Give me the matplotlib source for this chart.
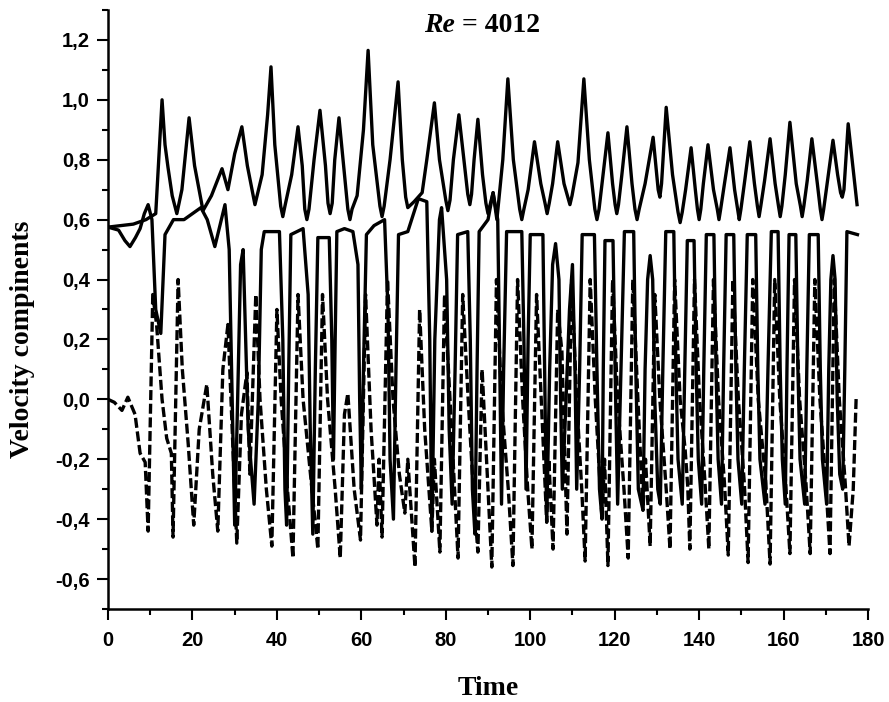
import matplotlib.pyplot as plt
from matplotlib.ticker import MultipleLocator, FuncFormatter

# --- upper solid curve (oscillation above 0.6, incl. the large spikes) ---
t_up = [0, 3, 6, 9, 11.3, 12.0, 12.8, 13.5, 14.2, 15.2, 16.3, 17.5, 19.2, 20.5, 22.5, 24.5,
        27, 28.4, 30, 31.7, 33.0, 34.8, 36.5, 37.8, 38.6, 39.5, 40.9, 41.4, 41.9, 43.5, 45, 46,
        46.6, 47.1, 47.6, 48.8, 50.2, 51.5, 52.1, 52.6, 53.1, 53.7, 54.7, 56, 56.8, 57.3, 57.8,
        59, 60.5, 61.6, 62.7, 64.4, 64.9, 65.4, 66.8, 68.7, 69.7, 70.5, 71, 72.5, 74.4, 75.5,
        77.3, 78.5, 80.0, 80.5, 81.0, 81.8, 83.1, 84.3, 85.2, 85.7, 86.1, 86.7, 87.6, 88.7,
        89.5, 90, 90.5, 91.2, 92.1, 93.5, 94.7, 96, 97.5, 98, 98.5, 99.5, 101, 102.5, 103.5,
        104, 104.5, 105.3, 106.5, 108, 108.9, 109.4, 109.9, 111.3, 112.7, 114, 115.3, 115.8,
        116.3, 117, 118.4, 119.5, 120.1, 120.5, 120.9, 121.7, 122.9, 124.1, 124.8, 125.3,
        125.8, 127.2, 129.1, 130.3, 130.7, 131.1, 132.2, 133.7, 135.0, 135.5, 136.0, 136.8,
        138.1, 139.1, 139.6, 140, 140.4, 141, 142.1, 143.4, 144.3, 144.7, 145.1, 146, 147.3,
        148.4, 149.1, 149.5, 149.9, 150.8, 152, 153.1, 153.8, 154.2, 154.6, 155.5, 156.8,
        158, 158.8, 159.2, 159.6, 160.4, 161.5, 163, 164.0, 164.4, 164.8, 165.6, 166.7, 168,
        168.7, 169.1, 169.5, 170.4, 171.7, 172.8, 173.5, 173.9, 174.3, 175.3, 176.4, 177.4]
v_up = [0.575, 0.58, 0.585, 0.60, 0.62, 0.80, 1.00, 0.85, 0.775, 0.68, 0.62, 0.70, 0.94, 0.78, 0.63, 0.68,
        0.77, 0.70, 0.82, 0.91, 0.78, 0.65, 0.75, 0.95, 1.11, 0.85, 0.645, 0.61, 0.645, 0.75, 0.91, 0.78,
        0.635, 0.60, 0.635, 0.80, 0.965, 0.78, 0.655, 0.62, 0.655, 0.80, 0.94, 0.75, 0.635, 0.60, 0.635,
        0.68, 0.90, 1.165, 0.85, 0.645, 0.61, 0.645, 0.80, 1.06, 0.80, 0.675, 0.64, 0.66, 0.69, 0.80,
        0.99, 0.80, 0.665, 0.63, 0.665, 0.80, 0.95, 0.80, 0.685, 0.65, 0.685, 0.80, 0.935, 0.75,
        0.655, 0.62, 0.65, 0.69, 0.60, 0.80, 1.07, 0.80, 0.635, 0.60, 0.635, 0.70, 0.86, 0.72, 0.655,
        0.62, 0.655, 0.72, 0.86, 0.72, 0.675, 0.65, 0.68, 0.79, 1.07, 0.80, 0.635, 0.60,
        0.635, 0.72, 0.89, 0.72, 0.65, 0.62, 0.65, 0.75, 0.91, 0.72, 0.635, 0.60,
        0.635, 0.72, 0.875, 0.70, 0.675, 0.72, 0.975, 0.75, 0.625, 0.59, 0.625, 0.70,
        0.84, 0.70, 0.635, 0.60, 0.635, 0.72, 0.85, 0.70, 0.635, 0.60, 0.635, 0.72, 0.84,
        0.70, 0.635, 0.60, 0.635, 0.73, 0.86, 0.72, 0.645, 0.61, 0.645, 0.73, 0.87,
        0.72, 0.645, 0.61, 0.645, 0.75, 0.925, 0.72, 0.645, 0.61, 0.645, 0.73, 0.87, 0.72,
        0.635, 0.60, 0.635, 0.73, 0.865, 0.75, 0.69, 0.675, 0.70, 0.92, 0.78, 0.65]

# --- middle solid curve (plateaus near 0.55 with sharp dips) ---
t_mid = [0, 2.5, 4.0, 5.2, 6.5, 7.6, 8.6, 9.5, 10.4, 11.3, 12.5, 13.5, 15.5, 18.0, 20.0, 22.0,
         23.5, 25.3, 26.5, 27.7, 28.7, 29.4, 30.0, 30.7, 31.4, 32.0, 32.6, 33.2, 34.6, 35.6,
         36.3, 37.0, 40.6, 41.4, 41.9, 42.3, 42.8, 43.3, 46.2, 47.4, 47.9, 48.5, 49.1, 49.7,
         52.4, 53.0, 53.4, 53.8, 54.2, 56.0, 58.0, 59.2, 59.6, 60.0, 60.5, 61.2, 63.0, 65.5,
         66.3, 66.8, 67.6, 68.2, 68.8, 71.0, 73.5, 75.5, 76.2, 76.7, 77.4, 78.5, 79.0, 80.2,
         80.8, 81.5, 82.2, 82.8, 85.2, 85.8, 86.3, 86.9, 87.4, 87.9, 90.0, 91.2, 92.3, 92.7,
         93.2, 93.7, 94.4, 98.0, 98.5, 99.0, 99.5, 100.0, 103.0, 103.5, 103.9, 104.6, 105.3,
         106.0, 106.8, 107.2, 107.6, 108.2, 109.3, 110.0, 110.6, 111.0, 111.7, 112.3, 115.2,
         115.8, 116.4, 117.0, 117.3, 117.7, 119.6, 120.1, 120.7, 121.5, 122.3, 124.5, 125.0,
         125.6, 126.7, 127.2, 127.8, 128.4, 129.0, 129.5, 130.2, 130.8, 131.4, 132.1, 134.0,
         134.5, 135.0, 136.0, 136.6, 137.2, 138.8, 139.3, 139.8, 140.6, 141.1, 141.7, 143.5,
         144.0, 144.5, 145.3, 145.8, 146.4, 148.2, 148.7, 149.2, 150.1, 150.7, 151.4, 153.4,
         153.9, 154.4, 155.6, 156.3, 157.1, 158.7, 159.2, 159.7, 160.4, 160.8, 161.3, 162.9,
         163.4, 163.9, 165.0, 165.5, 166.1, 168.2, 168.7, 169.2, 170.2, 170.7, 171.2, 171.7,
         172.2, 172.7, 173.3, 174.0, 174.5, 175.0, 177.5]
v_mid = [0.575, 0.565, 0.53, 0.51, 0.54, 0.57, 0.62, 0.65, 0.60, 0.30, 0.22, 0.55, 0.60, 0.60, 0.62, 0.64,
         0.60, 0.51, 0.58, 0.65, 0.50, 0.0, -0.42, 0.0, 0.45, 0.50, 0.20, -0.10, -0.35, 0.0,
         0.50, 0.56, 0.56, 0.20, -0.30, -0.42, 0.10, 0.55, 0.57, 0.35, -0.10, -0.45, 0.10, 0.54,
         0.54, 0.20, -0.20, 0.20, 0.56, 0.57, 0.56, 0.45, 0.0, -0.30, 0.10, 0.55, 0.58, 0.60,
         0.30, -0.20, -0.40, 0.10, 0.55, 0.56, 0.67, 0.66, 0.20, -0.44, 0.20, 0.60, 0.64, 0.40,
         -0.10, -0.35, 0.10, 0.55, 0.56, 0.20, -0.30, -0.45, 0.10, 0.56, 0.60, 0.69, 0.60, 0.20,
         -0.35, 0.10, 0.56, 0.56, 0.20, -0.30, 0.20, 0.55, 0.55, 0.0, -0.41, 0.10, 0.45,
         0.52, 0.40, 0.0, -0.30, -0.10, 0.30, 0.45, 0.10, -0.30, 0.10, 0.55, 0.55,
         0.10, -0.30, -0.40, 0.10, 0.53, 0.53, 0.10, -0.35, 0.10, 0.56, 0.56, 0.10,
         -0.30, -0.37, 0.10, 0.40, 0.48, 0.40, 0.0, -0.30, -0.35, 0.10, 0.56, 0.56,
         0.10, -0.20, -0.35, 0.10, 0.53, 0.53, 0.10, -0.20, -0.35, 0.10, 0.55, 0.55,
         0.10, -0.20, -0.35, 0.10, 0.55, 0.55, 0.10, -0.20, -0.35, 0.10, 0.55, 0.55,
         0.10, -0.20, -0.35, 0.10, 0.56, 0.56, 0.10, -0.20, -0.35, 0.10, 0.55, 0.55,
         0.10, -0.20, -0.35, 0.10, 0.55, 0.55, 0.10, -0.20, -0.35, 0.10, 0.40, 0.48,
         0.40, 0.0, -0.25, -0.30, 0.10, 0.56, 0.55]

# --- dashed curve (starts at 0, deep troughs near -0.5) ---
t_dash = [0, 1.5, 3.3, 4.7, 6.4, 7.6, 8.8, 9.5, 10.6, 11.5, 12.8, 13.9, 15.0, 15.4,
          16.6, 17.6, 19.0, 20.3, 21.6, 23.4, 24.8, 26.0, 27.2, 28.4, 29.4, 30.5,
          31.6, 32.9, 33.6, 35.0, 36.0, 37.5, 38.8, 40.0, 41.0, 42.5, 43.8,
          45.0, 46.2, 48.3, 49.7, 50.8, 52.0, 53.8, 55.0, 56.0, 56.8, 58.3, 59.8,
          61.0, 62.3, 63.7, 64.2, 64.9, 66.2, 67.5, 69.0, 70.3, 71.0, 72.7,
          73.8, 75.0, 76.7, 77.3, 78.6, 79.7, 81.0, 82.9, 84.0, 85.3, 86.5, 87.6,
          88.6, 89.3, 90.9, 92.0, 93.2, 94.8, 95.9, 97.0, 98.2, 99.4, 100.4,
          101.5, 102.6, 103.9, 104.4, 105.4, 106.5, 107.5, 108.7, 109.8, 111.0, 112.2, 113.0,
          114.2, 115.4, 117.0, 117.6, 118.4, 119.5, 120.7, 122.2, 123.2,
          124.3, 125.5, 126.7, 127.3, 128.4, 129.5, 130.7, 132.2, 133.1,
          134.2, 135.5, 136.7, 137.3, 137.8, 138.9, 140.1, 141.4, 142.3,
          143.4, 144.6, 146.0, 146.9, 148.0, 149.3, 150.7, 151.6,
          152.7, 154.0, 155.8, 156.8, 157.9, 159.1, 160.5, 161.5,
          162.6, 163.8, 165.3, 166.3, 167.4, 168.6, 170.0, 171.0,
          172.0, 173.2, 174.6, 175.5, 176.5, 177.2]
v_dash = [0.0, -0.01, -0.037, 0.007, -0.05, -0.18, -0.21, -0.44, 0.35, 0.25, 0.0, -0.13, -0.18, -0.46,
          0.40, 0.10, -0.15, -0.42, -0.10, 0.05, -0.25, -0.44, 0.10, 0.25, -0.10, -0.48,
          -0.05, 0.09, -0.25, 0.35, 0.0, -0.30, -0.49, 0.30, 0.0, -0.30, -0.53,
          0.35, 0.0, -0.30, -0.50, 0.35, 0.0, -0.30, -0.53, -0.05, 0.02, -0.30, -0.47,
          0.35, -0.10, -0.42, -0.20, -0.46, 0.40, 0.0, -0.25, -0.38, -0.20, -0.56,
          0.30, -0.10, -0.44, -0.20, -0.51, 0.35, 0.0, -0.53, 0.35, 0.0, -0.30, -0.51,
          0.10, -0.10, -0.56, 0.40, 0.0, -0.30, -0.555, 0.40, 0.0, -0.30, -0.50,
          0.35, 0.0, -0.41, -0.20, -0.50, 0.30, 0.16, -0.45, 0.40, 0.0, -0.30, -0.54,
          0.40, 0.0, -0.40, -0.20, -0.555, 0.40, 0.0, -0.30, -0.53,
          0.40, 0.0, -0.37, -0.20, -0.49, 0.35, 0.0, -0.30, -0.50,
          0.40, 0.0, -0.17, -0.29, -0.50, 0.40, 0.0, -0.28, -0.50,
          0.40, 0.0, -0.28, -0.52, 0.40, 0.0, -0.28, -0.545,
          0.40, 0.0, -0.28, -0.55, 0.40, 0.0, -0.28, -0.515,
          0.40, 0.0, -0.28, -0.515, 0.40, 0.0, -0.28, -0.515,
          0.40, 0.0, -0.28, -0.49, -0.30, 0.01]

xticks_major = [0, 20, 40, 60, 80, 100, 120, 140, 160, 180]

fig = plt.figure(figsize=(8.89, 7.02), dpi=100)
ax = fig.add_axes([0.1215, 0.1325, 0.8549, 0.8533])

ax.plot(t_up, v_up, color="black", linewidth=2.4)
ax.plot(t_mid, v_mid, color="black", linewidth=2.4)
ax.plot(t_dash, v_dash, color="black", linewidth=2.4, linestyle=(0, (3, 1.1)))

ax.set_xlim(0, 180)
ax.set_ylim(-0.7, 1.3)
ax.set_xticks(xticks_major)
ax.xaxis.set_minor_locator(MultipleLocator(10))
ax.yaxis.set_major_locator(MultipleLocator(0.2))
ax.yaxis.set_minor_locator(MultipleLocator(0.1))
ax.yaxis.set_major_formatter(FuncFormatter(lambda y, p: f"{y:.1f}".replace(".", ",").replace("-0,0", "0,0")))

for s in ["top", "right"]:
    ax.spines[s].set_visible(False)
for s in ["left", "bottom"]:
    ax.spines[s].set_linewidth(1.8)

ax.tick_params(which="major", direction="out", length=8, width=1.5,
               labelsize=14.5, labelfontfamily="Liberation Sans")
ax.tick_params(axis="x", which="major", pad=8)
ax.tick_params(axis="y", which="major", pad=5)
ax.tick_params(which="minor", direction="out", length=4.5, width=1.5)
for lab in ax.get_xticklabels() + ax.get_yticklabels():
    lab.set_fontweight("bold")

serif = dict(family="Liberation Serif", fontweight="bold")
fig.text(0.549, 0.019, "Time", ha="center", va="center", fontsize=20, **serif)
fig.text(0.025, 0.516, "Velocity compinents", ha="center", va="center",
         rotation=90, fontsize=20, **serif)
fig.text(0.512, 0.964, "Re", ha="right", va="center", fontsize=20,
         family="Liberation Serif", fontweight="bold", fontstyle="italic")
fig.text(0.512, 0.964, " = 4012", ha="left", va="center", fontsize=20, **serif)

fig.savefig("out.png", dpi=100)
